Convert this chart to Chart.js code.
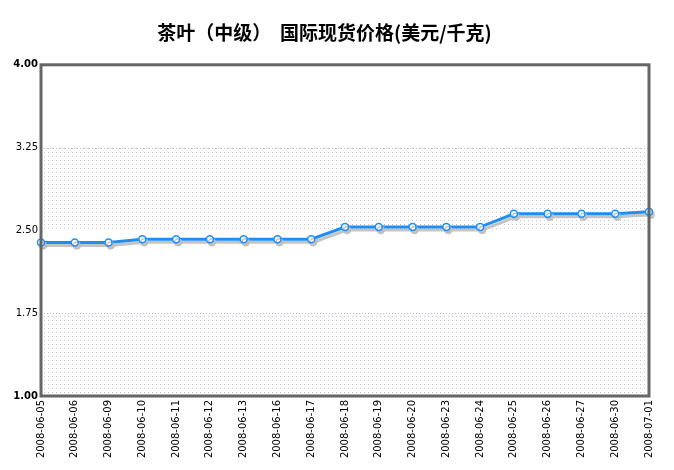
<!DOCTYPE html>
<html>
<head>
<meta charset="utf-8">
<script src="https://cdn.jsdelivr.net/npm/chart.js@4.4.1/dist/chart.umd.min.js"></script>
<style>
  html, body { margin: 0; padding: 0; background: #fff; }
  #wrap { width: 674px; height: 470px; }
</style>
</head>
<body>
<div id="wrap"><canvas id="teaChart" width="674" height="470"></canvas></div>
<script>
const titleText = '茶叶（中级）  国际现货价格(美元/千克)';
const dates = ['2008-06-05', '2008-06-06', '2008-06-09', '2008-06-10', '2008-06-11', '2008-06-12',
  '2008-06-13', '2008-06-16', '2008-06-17', '2008-06-18', '2008-06-19', '2008-06-20',
  '2008-06-23', '2008-06-24', '2008-06-25', '2008-06-26', '2008-06-27', '2008-06-30', '2008-07-01'];
const prices = [2.39, 2.39, 2.39, 2.42, 2.42, 2.42, 2.42, 2.42, 2.42, 2.53, 2.53, 2.53,
  2.53, 2.53, 2.65, 2.65, 2.65, 2.65, 2.67];
const yTicks = [1.00, 1.75, 2.50, 3.25, 4.00];
const dottedBands = [[1.00, 1.75], [2.50, 3.25]];

// small dot pattern for the shaded bands
function makeDots(ctx) {
  const p = document.createElement('canvas');
  p.width = 4; p.height = 4;
  const c = p.getContext('2d');
  c.fillStyle = '#ffffff';
  c.fillRect(0, 0, 4, 4);
  c.fillStyle = '#c4c4cc';
  c.fillRect(0, 0, 1, 1);
  c.fillStyle = '#eef8f8';
  c.fillRect(2, 2, 1, 1);
  return ctx.createPattern(p, 'repeat');
}

const bandsPlugin = {
  id: 'bands',
  beforeDatasetsDraw(chart) {
    const { ctx, chartArea } = chart;
    const y = chart.scales.y;
    ctx.save();
    ctx.fillStyle = makeDots(ctx);
    dottedBands.forEach(([lo, hi]) => {
      const top = Math.round(y.getPixelForValue(hi));
      const bot = Math.round(y.getPixelForValue(lo));
      ctx.fillRect(chartArea.left, top, chartArea.right - chartArea.left, bot - top);
      // dotted edge line at the top of each band
      ctx.save();
      ctx.strokeStyle = '#b8b8c4';
      ctx.lineWidth = 1;
      ctx.setLineDash([1, 2]);
      ctx.beginPath();
      ctx.moveTo(chartArea.left, top + 0.5);
      ctx.lineTo(chartArea.right, top + 0.5);
      ctx.stroke();
      ctx.restore();
    });
    ctx.restore();
  },
  afterDraw(chart) {
    const { ctx, chartArea } = chart;
    ctx.save();
    ctx.strokeStyle = '#666666';
    ctx.lineWidth = 3;
    ctx.strokeRect(chartArea.left, chartArea.top, chartArea.right - chartArea.left, chartArea.bottom - chartArea.top);
    ctx.restore();
  }
};

const shadowPlugin = {
  id: 'lineShadow',
  beforeDatasetDraw(chart) {
    const ctx = chart.ctx;
    ctx.save();
    ctx.shadowColor = 'rgba(190,190,190,0.9)';
    ctx.shadowOffsetX = 2;
    ctx.shadowOffsetY = 3;
    ctx.shadowBlur = 0;
  },
  afterDatasetDraw(chart) {
    chart.ctx.restore();
  }
};

new Chart(document.getElementById('teaChart'), {
  type: 'line',
  data: {
    labels: dates,
    datasets: [{
      data: prices,
      borderColor: '#1e8ef5',
      borderWidth: 3,
      pointRadius: 3.5,
      pointBorderWidth: 1.5,
      pointBackgroundColor: '#ffffff',
      pointBorderColor: '#1e8ef5',
      tension: 0,
      fill: false
    }]
  },
  options: {
    responsive: false,
    animation: false,
    layout: { padding: { left: 0, right: 25, top: 0, bottom: 0 } },
    plugins: {
      legend: { display: false },
      tooltip: { enabled: false },
      title: {
        display: true,
        text: titleText,
        color: '#000',
        font: { family: '"Noto Sans CJK SC", sans-serif', size: 19, weight: 'bold', lineHeight: 1.2 },
        padding: { top: 21, bottom: 21 }
      }
    },
    scales: {
      x: {
        offset: false,
        grid: { display: false, drawTicks: false },
        border: { display: false },
        ticks: {
          autoSkip: false,
          maxRotation: 90,
          minRotation: 90,
          padding: 4,
          color: '#000',
          font: { family: '"DejaVu Sans", Verdana, sans-serif', size: 10 }
        },
        afterFit(s) { s.height = 74; }
      },
      y: {
        min: 1,
        max: 4,
        afterBuildTicks(s) { s.ticks = yTicks.map(v => ({ value: v })); },
        grid: { display: false, drawTicks: false },
        border: { display: false },
        ticks: {
          padding: 3,
          color: '#000',
          font: ctx => ({
            family: '"DejaVu Sans", Verdana, sans-serif',
            size: 10,
            weight: (ctx.tick && (ctx.tick.value === 4 || ctx.tick.value === 1)) ? 'bold' : 'normal'
          }),
          callback: v => Number(v).toFixed(2)
        },
        afterFit(s) { s.width = 41; }
      }
    }
  },
  plugins: [bandsPlugin, shadowPlugin]
});
</script>
</body>
</html>
